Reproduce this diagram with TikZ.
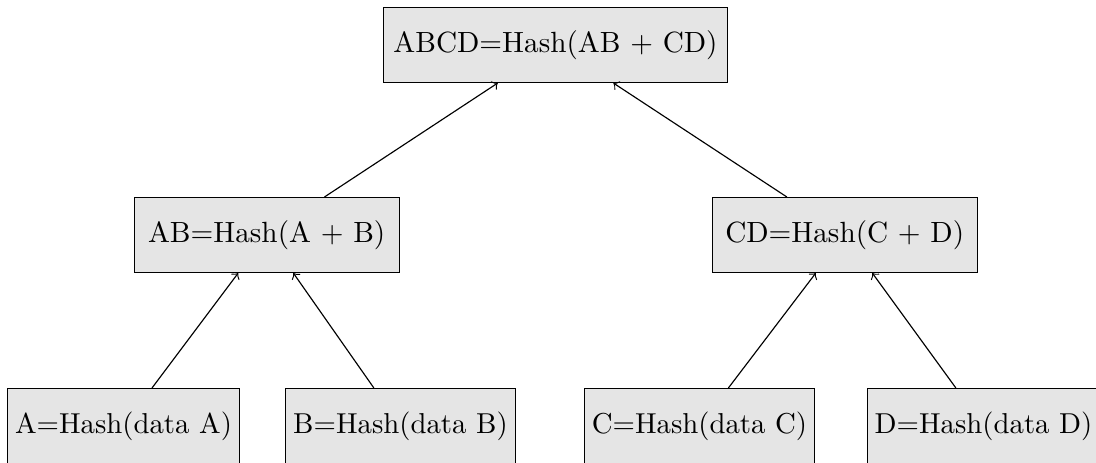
\documentclass[tikz,border=0pt]{standalone}
\usetikzlibrary{arrows}
\begin{document}
\begin{tikzpicture}[x=0.3472pt,y=-0.3472pt,
  hbox/.style={draw, fill=gray!20, rectangle, minimum height=26pt, inner sep=3.33pt,
    font=\fontsize{10.15}{12}\selectfont},
  midbox/.style={hbox, minimum width=92pt},
  leafbox/.style={hbox, inner xsep=2.6pt, font=\fontsize{10}{12}\selectfont},
  link/.style={->, line width=0.4pt}]
\useasboundingbox (0,0) rectangle (1096,462);
\node[hbox] (abcd) at (555.5,45) {ABCD=Hash(AB + CD)};
\node[midbox] (ab) at (266.7,235) {AB=Hash(A + B)};
\node[midbox] (cd) at (844.7,235) {CD=Hash(C + D)};
\node[leafbox] (a) at (123.5,426) {A=Hash(data A)};
\node[leafbox] (b) at (400.5,426) {B=Hash(data B)};
\node[leafbox] (c) at (699.5,426) {C=Hash(data C)};
\node[leafbox] (d) at (983.5,426) {D=Hash(data D)};
\draw[link] (ab) -- (abcd);
\draw[link] (cd) -- (abcd);
\draw[link] (a) -- (ab);
\draw[link] (b) -- (ab);
\draw[link] (c) -- (cd);
\draw[link] (d) -- (cd);
\end{tikzpicture}
\end{document}
